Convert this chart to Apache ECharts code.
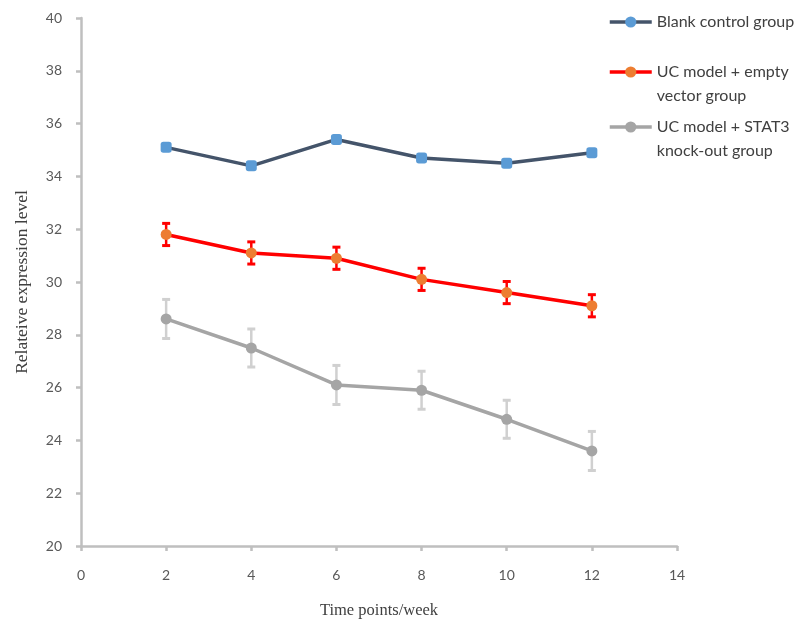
<!DOCTYPE html>
<html><head><meta charset="utf-8">
<script src="https://cdn.jsdelivr.net/npm/echarts@6/dist/echarts.min.js"></script>
<style>html,body{margin:0;padding:0;background:#fff}#c{width:798px;height:620px}</style>
</head><body><div id="c"></div>
<script>
const weeks = [2, 4, 6, 8, 10, 12];
const seriesNames = ['Blank control group', 'UC model + empty\nvector group', 'UC model + STAT3\nknock-out group'];
const blankVals = [35.1, 34.4, 35.4, 34.7, 34.5, 34.9];
const emptyVals = [31.8, 31.1, 30.9, 30.1, 29.6, 29.1];
const emptyErr = [0.42, 0.42, 0.42, 0.42, 0.42, 0.42];
const stat3Vals = [28.6, 27.5, 26.1, 25.9, 24.8, 23.6];
const stat3Err = [0.74, 0.72, 0.74, 0.72, 0.72, 0.74];
const xAxisName = 'Time points/week';
const yAxisName = 'Relateive expression level';

const chart = echarts.init(document.getElementById('c'), null, {renderer: 'canvas'});

function errSeries(vals, errs, color, capW, lw) {
  return {
    type: 'custom', silent: true, z: 1,
    encode: {x: 0, y: [1, 2]},
    data: weeks.map((w, i) => [w, vals[i] - errs[i], vals[i] + errs[i]]),
    renderItem(params, api) {
      const lo = api.coord([api.value(0), api.value(1)]);
      const hi = api.coord([api.value(0), api.value(2)]);
      const h = capW / 2;
      const st = {stroke: color, lineWidth: lw};
      return {type: 'group', children: [
        {type: 'line', shape: {x1: lo[0], y1: lo[1], x2: hi[0], y2: hi[1]}, style: st},
        {type: 'line', shape: {x1: lo[0] - h, y1: lo[1], x2: lo[0] + h, y2: lo[1]}, style: {stroke: color, lineWidth: lw + 0.5}},
        {type: 'line', shape: {x1: hi[0] - h, y1: hi[1], x2: hi[0] + h, y2: hi[1]}, style: {stroke: color, lineWidth: lw + 0.5}}
      ]};
    }
  };
}

const legendText = {color: '#404040', fontFamily: 'Lato', fontSize: 16, lineHeight: 24};
function legendAt(name, top, twoLine) {
  return {
    data: [name], left: 608, top: top, padding: 0, itemWidth: 42, itemHeight: 14,
    itemGap: 0, selectedMode: false,
    lineStyle: {width: 3.5},
    formatter: twoLine ? (n => '\u00a0\n' + n) : (n => n),
    textStyle: legendText
  };
}

const axisLineStyle = {color: '#bfbfbf', width: 2.5};

chart.setOption({
  animation: false,
  backgroundColor: '#fff',
  grid: {left: 81, right: 121, top: 18, bottom: 74, containLabel: false, outerBoundsMode: 'none'},
  legend: [
    legendAt(seriesNames[0], 10, false),
    legendAt(seriesNames[1], 36, true),
    legendAt(seriesNames[2], 91, true)
  ],
  xAxis: {
    type: 'value', min: 0, max: 14, interval: 2,
    name: xAxisName, nameLocation: 'middle', nameGap: 56,
    nameTextStyle: {fontFamily: 'Liberation Serif', fontSize: 16.5, color: '#404040'},
    axisLine: {lineStyle: axisLineStyle},
    axisTick: {show: true, length: 5, lineStyle: axisLineStyle},
    axisLabel: {color: '#595959', fontFamily: 'Lato', fontSize: 14, margin: 22},
    splitLine: {show: false}
  },
  yAxis: {
    type: 'value', min: 20, max: 40, interval: 2,
    name: yAxisName, nameLocation: 'middle', nameGap: 50,
    nameTextStyle: {fontFamily: 'Liberation Serif', fontSize: 17.5, color: '#404040'},
    axisLine: {show: true, lineStyle: axisLineStyle},
    axisTick: {show: true, length: 5, lineStyle: axisLineStyle},
    axisLabel: {color: '#595959', fontFamily: 'Lato', fontSize: 14, margin: 19},
    splitLine: {show: false}
  },
  series: [
    errSeries(emptyVals, emptyErr, '#ff0000', 8, 2.5),
    errSeries(stat3Vals, stat3Err, '#d0d0d0', 8, 2.5),
    {
      type: 'line', name: seriesNames[0], z: 3,
      data: weeks.map((w, i) => ({value: [w, blankVals[i]], symbol: 'roundRect'})),
      symbol: 'circle', symbolSize: 11,
      lineStyle: {color: '#44546a', width: 3.5},
      itemStyle: {color: '#5b9bd5'}
    },
    {
      type: 'line', name: seriesNames[1], z: 3,
      data: weeks.map((w, i) => [w, emptyVals[i]]),
      symbol: 'circle', symbolSize: 11,
      lineStyle: {color: '#ff0000', width: 3.5},
      itemStyle: {color: '#ed7d31'}
    },
    {
      type: 'line', name: seriesNames[2], z: 3,
      data: weeks.map((w, i) => [w, stat3Vals[i]]),
      symbol: 'circle', symbolSize: 11,
      lineStyle: {color: '#a5a5a5', width: 3.5},
      itemStyle: {color: '#a5a5a5'}
    }
  ]
});
</script>
</body></html>
